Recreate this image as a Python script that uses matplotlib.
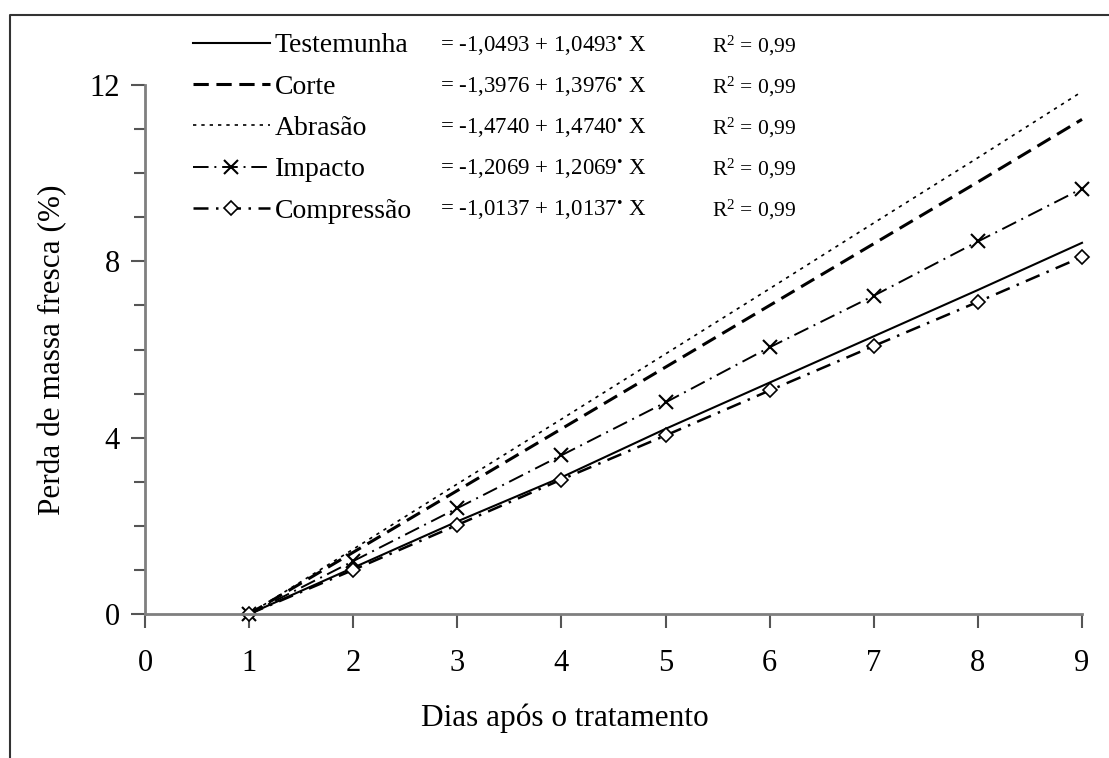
import matplotlib
matplotlib.use("Agg")
import matplotlib.pyplot as plt
from matplotlib.lines import Line2D

plt.rcParams['font.family'] = ['Liberation Serif', 'DejaVu Serif']
plt.rcParams['mathtext.fontset'] = 'custom'
plt.rcParams['mathtext.rm'] = 'Liberation Serif'
plt.rcParams['mathtext.it'] = 'Liberation Serif:italic'

dias = [1, 2, 3, 4, 5, 6, 7, 8, 9]
testemunha = [0, 1.05, 2.1, 3.1, 4.2, 5.25, 6.3, 7.35, 8.42]
corte = [0, 1.4, 2.8, 4.2, 5.6, 7.0, 8.4, 9.8, 11.22]
abrasao = [0, 1.47, 2.95, 4.42, 5.9, 7.38, 8.87, 10.35, 11.85]
impacto = [0, 1.2, 2.4, 3.6, 4.8, 6.05, 7.22, 8.45, 9.65]
compressao = [0, 1.0, 2.02, 3.05, 4.05, 5.07, 6.08, 7.08, 8.1]

series_names = ["Testemunha", "Corte", "Abrasão", "Impacto", "Compressão"]
equations = ["= -1,0493 + 1,0493$^{\u2022}$ X",
             "= -1,3976 + 1,3976$^{\u2022}$ X",
             "= -1,4740 + 1,4740$^{\u2022}$ X",
             "= -1,2069 + 1,2069$^{\u2022}$ X",
             "= -1,0137 + 1,0137$^{\u2022}$ X"]
r2_labels = ["R$^2$ = 0,99"] * 5
xticks = [0, 1, 2, 3, 4, 5, 6, 7, 8, 9]
yticks = [0, 4, 8, 12]

W, H = 1109, 758
fig = plt.figure(figsize=(W / 100, H / 100), dpi=100)
ax = fig.add_axes([145 / W, 1 - 614 / H, (1082 - 145) / W, (614 - 85) / H])

styles = [
    dict(color='black', lw=1.5, ls='-'),
    dict(color='black', lw=2.2, ls=(0, (5, 2.5))),
    dict(color='black', lw=1.2, ls=(0, (2, 3))),
    dict(color='black', lw=1.4, ls=(0, (8, 3, 1, 3)), marker='x', ms=10, mew=1.5),
    dict(color='black', lw=1.8, ls=(0, (6, 3, 1, 3)), marker='D', ms=7, mfc='white', mew=1.2),
]
data = [testemunha, corte, abrasao, impacto, compressao]
handles = []
for name, vals, st in zip(series_names, data, styles):
    h, = ax.plot(dias, vals, label=name, clip_on=False, **st)
    handles.append(h)

ax.set_xlim(0, 9)
ax.set_ylim(0, 12)
ax.set_xticks(xticks)
ax.set_yticks(yticks)
ax.set_yticks(range(0, 13), minor=True)
for s in ['top', 'right']:
    ax.spines[s].set_visible(False)
for s in ['left', 'bottom']:
    ax.spines[s].set_color('#7f7f7f')
    ax.spines[s].set_linewidth(2)
ax.tick_params(axis='both', which='both', color='#555555', width=1.5, direction='out')
ax.tick_params(axis='x', length=10, pad=15, labelsize=22)
ax.tick_params(axis='y', which='major', length=10, pad=8, labelsize=22)
ax.tick_params(axis='y', which='minor', length=8)

fig.text(53 / W, 1 - 350 / H, "Perda de massa fresca (%)", fontsize=22.5,
         rotation=90, ha='center', va='center')
fig.text(565 / W, 1 - 718 / H, "Dias após o tratamento", fontsize=22.5,
         ha='center', va='center')

leg = ax.legend(handles=handles, loc='upper left',
                bbox_to_anchor=(193 / W, 1 - 33 / H), bbox_transform=fig.transFigure,
                frameon=False, fontsize=20, handlelength=2.77, handletextpad=0.18,
                labelspacing=0.57, borderaxespad=0, borderpad=0)

row_y = [46, 87, 128, 169, 210]
for yy, eq, r2 in zip(row_y, equations, r2_labels):
    fig.text(440 / W, 1 - yy / H, eq, fontsize=16.5, ha='left', va='center')
    fig.text(712 / W, 1 - yy / H, r2, fontsize=15.5, ha='left', va='center')

# outer frame (top and left)
fig.add_artist(Line2D([10 / W, 10 / W, 1], [0, 1 - 15 / H, 1 - 15 / H],
                      transform=fig.transFigure, color='#333333', lw=1.5))

fig.savefig("out.png", dpi=100)
